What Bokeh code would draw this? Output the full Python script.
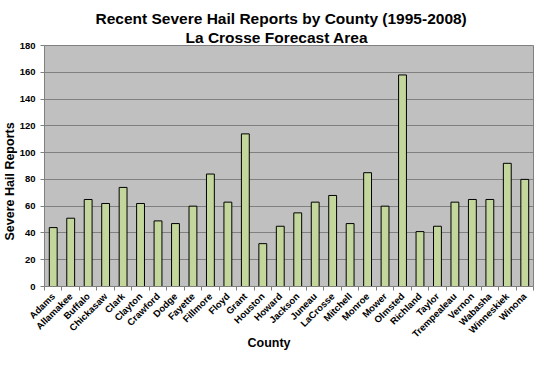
import math
from bokeh.plotting import figure
from bokeh.models import ColumnDataSource, Range1d, FixedTicker, Title
from bokeh.embed import file_html
from bokeh.resources import INLINE

# ---- data ----
title_lines = ["Recent Severe Hail Reports by County (1995-2008)", "La Crosse Forecast Area"]
x_label = "County"
y_label = "Severe Hail Reports"
counties = ["Adams", "Allamakee", "Buffalo", "Chickasaw", "Clark", "Clayton", "Crawford",
            "Dodge", "Fayette", "Fillmore", "Floyd", "Grant", "Houston", "Howard",
            "Jackson", "Juneau", "LaCrosse", "Mitchell", "Monroe", "Mower", "Olmsted",
            "Richland", "Taylor", "Trempealeau", "Vernon", "Wabasha", "Winneskiek", "Winona"]
reports = [44, 51, 65, 62, 74, 62, 49,
           47, 60, 84, 63, 114, 32, 45,
           55, 63, 68, 47, 85, 60, 158,
           41, 45, 63, 65, 65, 92, 80]
y_ticks = [0, 20, 40, 60, 80, 100, 120, 140, 160, 180]

FONT = "Liberation Sans"
GRAY = "#808080"

n = len(counties)
centers = [i + 0.5 for i in range(n)]
bounds = list(range(n + 1))

src = ColumnDataSource(dict(x=centers, top=reports, county=counties))

p = figure(width=538, height=366, output_backend="svg", toolbar_location=None,
           x_range=Range1d(0, n), y_range=Range1d(y_ticks[0], y_ticks[-1]),
           min_border_left=41, min_border_right=5, min_border_top=45, min_border_bottom=80,
           background_fill_color="#C0C0C0", border_fill_color="white",
           outline_line_color=GRAY)

p.vbar(x="x", top="top", width=0.45, source=src,
       fill_color="#C3D69B", line_color="black", line_width=1)

xa = p.xaxis[0]
xa.ticker = FixedTicker(ticks=centers, minor_ticks=bounds)
xa.major_label_overrides = {c: name for c, name in zip(centers, counties)}
xa.major_tick_line_color = None
xa.major_tick_out = 0
xa.minor_tick_line_color = GRAY
xa.minor_tick_out = 4
xa.minor_tick_in = 0
xa.major_label_orientation = math.pi / 4
xa.major_label_text_font = FONT
xa.major_label_text_font_style = "bold"
xa.major_label_text_font_size = "9.5px"
xa.major_label_text_color = "black"
xa.major_label_standoff = 4
xa.axis_line_color = GRAY

ya = p.yaxis[0]
ya.ticker = FixedTicker(ticks=y_ticks)
ya.major_tick_out = 4
ya.major_tick_in = 0
ya.major_tick_line_color = GRAY
ya.minor_tick_line_color = None
ya.major_label_text_font = FONT
ya.major_label_text_font_style = "bold"
ya.major_label_text_font_size = "9.5px"
ya.major_label_text_color = "black"
ya.major_label_standoff = 5
ya.axis_line_color = GRAY

p.xgrid.visible = False
p.ygrid.grid_line_color = GRAY
p.ygrid.grid_line_width = 1


def style_title(t, size, standoff=0):
    t.text_font = FONT
    t.text_font_style = "bold"
    t.text_font_size = size
    t.text_color = "black"
    t.standoff = standoff


# figure title is the outer (top) line; the added title sits next to the plot
p.title.text = title_lines[0]
p.title.align = "left"
p.title.offset = 51
style_title(p.title, "15.5px")
t2 = Title(text=title_lines[1], align="left", offset=141)
style_title(t2, "15.5px")
p.add_layout(t2, "above")

ty = Title(text=y_label, align="left", offset=46)
style_title(ty, "12.5px")
p.add_layout(ty, "left")

tx = Title(text=x_label, align="left", offset=203, vertical_align="top")
style_title(tx, "12.5px", standoff=-22)
p.add_layout(tx, "below")

open("out.html", "w").write(file_html(p, INLINE))
